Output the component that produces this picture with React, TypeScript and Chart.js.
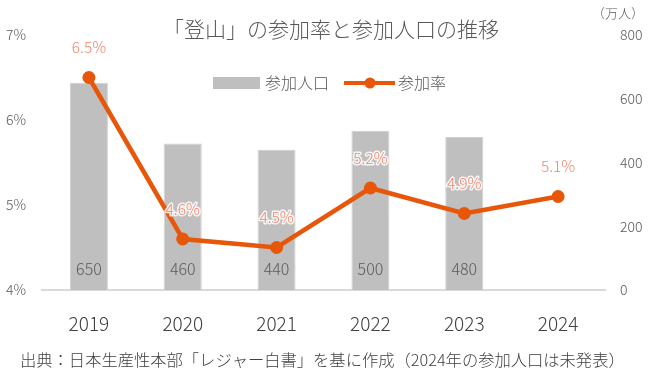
import React, { useEffect, useRef } from "react";
import { Chart, registerables } from "chart.js";

Chart.register(...registerables);

const categories = ["2019", "2020", "2021", "2022", "2023", "2024"];
const population = [650, 460, 440, 500, 480, null];
const rate = [6.5, 4.6, 4.5, 5.2, 4.9, 5.1];
const rateTicks = [4, 5, 6, 7];
const popTicks = [0, 200, 400, 600, 800];
const titleText = "「登山」の参加率と参加人口の推移";
const unitText = "（万人）";
const footerText = "出典：日本生産性本部「レジャー白書」を基に作成（2024年の参加人口は未発表）";
const barLabel = "参加人口";
const lineLabel = "参加率";

const FONT = '"Noto Sans CJK JP", "Noto Sans", sans-serif';
const W = "300";
const BAR_COLOR = "#BFBFBF";
const LINE_COLOR = "#E8560A";
const RATE_LABEL_COLOR = "#F2846A";

const overlay = {
  id: "overlay",
  afterDatasetsDraw(chart: any) {
    const ctx = chart.ctx;
    const area = chart.chartArea;
    ctx.save();
    const barMeta = chart.getDatasetMeta(0);
    ctx.font = `${W} 16px ${FONT}`;
    ctx.fillStyle = "#595959";
    ctx.textAlign = "center";
    ctx.textBaseline = "middle";
    barMeta.data.forEach((el: any, i: number) => {
      const v = population[i];
      if (v == null) return;
      ctx.fillText(String(v), el.x, area.bottom - 21);
    });
    const lineMeta = chart.getDatasetMeta(1);
    ctx.font = `${W} 15.5px ${FONT}`;
    lineMeta.data.forEach((el: any, i: number) => {
      const t = rate[i].toFixed(1) + "%";
      const y = el.y - 30;
      ctx.lineWidth = 3;
      ctx.strokeStyle = "rgba(255,255,255,0.85)";
      ctx.lineJoin = "round";
      ctx.strokeText(t, el.x, y);
      ctx.fillStyle = RATE_LABEL_COLOR;
      ctx.fillText(t, el.x, y);
    });
    const ly = 83;
    ctx.fillStyle = BAR_COLOR;
    ctx.fillRect(213, ly - 6, 47, 12);
    ctx.font = `${W} 16px ${FONT}`;
    ctx.fillStyle = "#595959";
    ctx.textAlign = "left";
    ctx.fillText(barLabel, 265, ly);
    ctx.strokeStyle = LINE_COLOR;
    ctx.lineWidth = 4;
    ctx.beginPath();
    ctx.moveTo(344, ly);
    ctx.lineTo(395, ly);
    ctx.stroke();
    ctx.fillStyle = LINE_COLOR;
    ctx.beginPath();
    ctx.arc(370, ly, 5.5, 0, Math.PI * 2);
    ctx.fill();
    ctx.fillStyle = "#595959";
    ctx.fillText(lineLabel, 398, ly);
    ctx.textAlign = "center";
    ctx.font = `${W} 21px ${FONT}`;
    ctx.fillStyle = "#595959";
    ctx.fillText(titleText, 331, 29);
    ctx.font = `${W} 13px ${FONT}`;
    ctx.fillText(unitText, 618, 13);
    ctx.font = `${W} 16.3px ${FONT}`;
    ctx.fillStyle = "#404040";
    ctx.textAlign = "left";
    ctx.fillText(footerText, 20, 360);
    ctx.restore();
  },
};

export default function App() {
  const ref = useRef<HTMLCanvasElement>(null);
  useEffect(() => {
    document.body.style.margin = "0";
    const chart = new Chart(ref.current!, {
      type: "bar",
      data: {
        labels: categories,
        datasets: [
          {
            type: "bar",
            label: barLabel,
            data: population as any,
            yAxisID: "yPop",
            backgroundColor: BAR_COLOR,
            borderColor: "#D0D0D0",
            borderWidth: 1,
            barPercentage: 0.405,
            categoryPercentage: 1,
            order: 2,
          },
          {
            type: "line",
            label: lineLabel,
            data: rate,
            yAxisID: "yRate",
            borderColor: LINE_COLOR,
            backgroundColor: LINE_COLOR,
            borderWidth: 4.5,
            pointRadius: 6.5,
            pointHoverRadius: 6.5,
            pointBorderWidth: 0,
            tension: 0,
            order: 1,
          } as any,
        ],
      },
      options: {
        animation: false,
        responsive: false,
        layout: { padding: { top: 35, left: 0, right: 0, bottom: 0 } },
        plugins: {
          legend: { display: false },
          title: { display: false },
          tooltip: { enabled: false },
        },
        scales: {
          x: {
            offset: true,
            grid: { display: false, drawTicks: false },
            border: { display: true, color: "#D9D9D9", width: 2 },
            ticks: { color: "#404040", font: { family: FONT, size: 19, weight: W as any }, padding: 22 },
            afterFit: (s: any) => { s.height = 88; },
          },
          yRate: {
            position: "left",
            min: 4,
            max: 7,
            afterBuildTicks: (s: any) => { s.ticks = rateTicks.map((v) => ({ value: v })); },
            grid: { display: false, drawTicks: false },
            border: { display: false },
            ticks: {
              color: "#595959",
              font: { family: FONT, size: 14, weight: W as any },
              padding: 16,
              callback: (v: any) => v + "%",
            },
            afterFit: (s: any) => { s.width = 42; },
          },
          yPop: {
            position: "right",
            min: 0,
            max: 800,
            afterBuildTicks: (s: any) => { s.ticks = popTicks.map((v) => ({ value: v })); },
            grid: { display: false, drawTicks: false },
            border: { display: false },
            ticks: { color: "#595959", font: { family: FONT, size: 14, weight: W as any }, padding: 15 },
            afterFit: (s: any) => { s.width = 48; },
          },
        },
      },
      plugins: [overlay],
    });
    return () => chart.destroy();
  }, []);
  return <canvas ref={ref} width={653} height={378} style={{ display: "block" }} />;
}
